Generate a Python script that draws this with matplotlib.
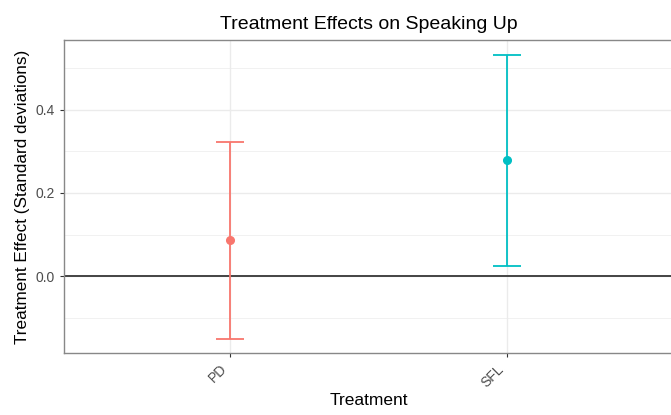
import matplotlib
matplotlib.use("Agg")
import matplotlib.pyplot as plt
from matplotlib.ticker import MultipleLocator

plt.rcParams['font.family'] = ['Liberation Sans', 'DejaVu Sans']

treatments = ["PD", "SFL"]
estimates = [0.087, 0.278]
lower = [-0.150, 0.025]
upper = [0.323, 0.532]
colors = ["#F8766D", "#00BFC4"]

fig = plt.figure(figsize=(6.71, 4.15), dpi=100)
# panel runs a little past the right edge, as in the reference
ax = fig.add_axes([64 / 671, 1 - 353 / 415, 609 / 671, 313 / 415])

xpos = list(range(1, len(treatments) + 1))

ax.set_xlim(0.4, len(treatments) + 0.6)
ax.set_ylim(-0.184, 0.567)

ax.yaxis.set_major_locator(MultipleLocator(0.2))
ax.yaxis.set_minor_locator(MultipleLocator(0.1))
ax.set_xticks(xpos)
ax.set_xticklabels(treatments, rotation=45, ha='right', va='top')

ax.grid(which='major', color='#EBEBEB', lw=1.0, zorder=0)
ax.grid(which='minor', axis='y', color='#EBEBEB', lw=0.5, zorder=0)
ax.set_axisbelow(True)

ax.axhline(0, color='#444444', lw=1.4, zorder=1)

for x, est, lo, hi, c in zip(xpos, estimates, lower, upper, colors):
    ax.errorbar([x], [est], yerr=[[est - lo], [hi - est]], fmt='o', color=c,
                ecolor=c, elinewidth=1.3, capsize=10, capthick=1.3,
                markersize=5.5, zorder=3)

for s in ax.spines.values():
    s.set_color('#888888')
    s.set_linewidth(1.0)

ax.tick_params(which='major', length=3, width=0.8, color='#333333',
               labelcolor='#4D4D4D', labelsize=10)
ax.tick_params(which='minor', length=0)
ax.set_yticklabels(["0.0" if abs(v) < 1e-9 else f"{v:.1f}" for v in ax.get_yticks()])

ax.set_xlabel("Treatment", fontsize=12.5, labelpad=2)
ax.set_ylabel("Treatment Effect (Standard deviations)", fontsize=12.3, labelpad=4)
ax.set_title("Treatment Effects on Speaking Up", fontsize=14, pad=8)

fig.savefig("out.png", dpi=100)
